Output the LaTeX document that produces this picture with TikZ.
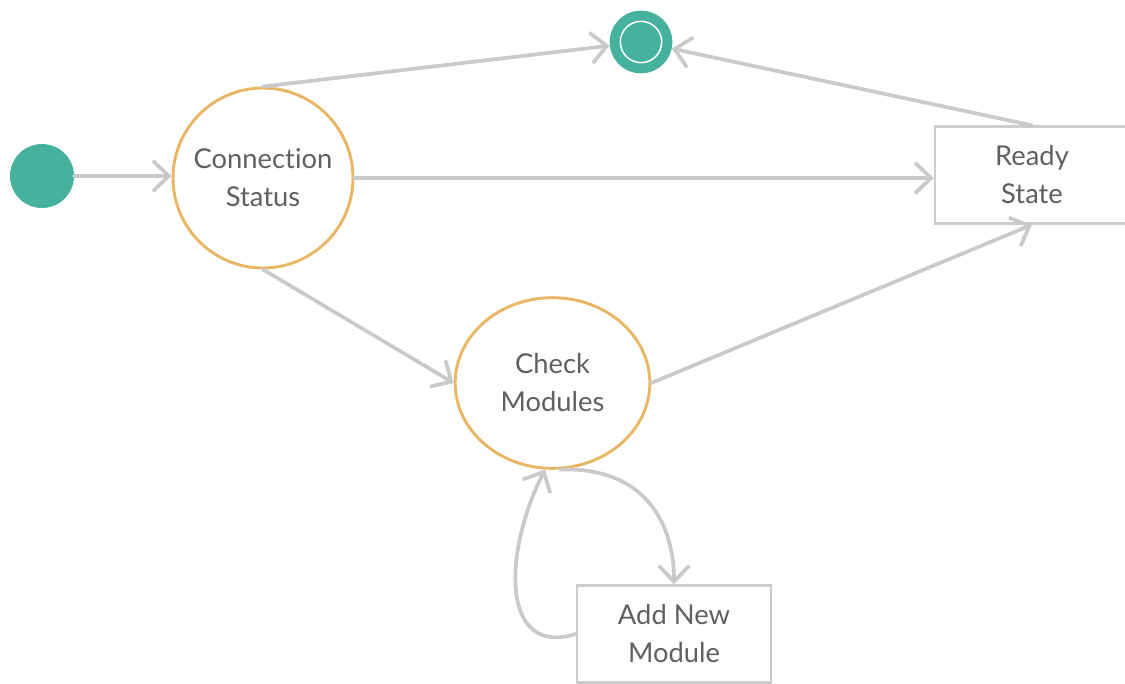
\documentclass[tikz,border=0pt]{standalone}
\usepackage{fontspec}
\setmainfont{Lato}[Ligatures=NoCommon]
\usetikzlibrary{arrows.meta,shapes.geometric}
\definecolor{teal}{HTML}{46B29D}
\definecolor{amber}{HTML}{E8B766}
\definecolor{edge}{HTML}{CACACA}
\definecolor{boxline}{HTML}{CDCDCD}
\definecolor{label}{HTML}{606060}
\tikzset{
  startnode/.style={circle,fill=teal,draw=none,minimum size=48pt,inner sep=0pt},
  endnode/.style={circle,fill=teal,draw=none,minimum size=47pt,inner sep=0pt},
  statecirc/.style={circle,draw=amber,line width=2.2pt,fill=white,minimum size=135pt,inner sep=0pt,
    align=center,text=label,font=\fontsize{20.5pt}{28.5pt}\selectfont},
  stateoval/.style={ellipse,draw=amber,line width=2.2pt,fill=white,minimum width=146pt,minimum height=128pt,inner sep=0pt,
    align=center,text=label,font=\fontsize{20.5pt}{28.5pt}\selectfont},
  statebox/.style={rectangle,draw=boxline,line width=1.8pt,fill=white,minimum width=145.5pt,minimum height=72.75pt,inner sep=0pt,
    align=center,text=label,font=\fontsize{20.5pt}{28.5pt}\selectfont},
  link/.style={draw=edge,line width=2.8pt,line cap=round,line join=round,
    -{Straight Barb[length=12pt,width=23pt,line width=2.8pt]}},
}
\begin{document}
\begin{tikzpicture}[x=0.75pt,y=-0.75pt]
  \useasboundingbox (0,0) rectangle (1125,683);
  \clip (0,0) rectangle (1125,683);

  % states
  \node[startnode] (init) at (42,176) {};
  \node[endnode] (fin) at (641,42) {};
  \draw[white,line width=1.1pt] (fin) circle (15.5pt);
  \node[statecirc] (cs) at (263,178) {Connection\\Status};
  \node[stateoval] (cm) at (552.5,383) {Check\\Modules};
  \node[statebox] (rs) at (1032,175) {Ready\\State};
  \node[statebox] (add) at (674,634) {Add New\\Module};

  % transitions
  \draw[link] (init.east) -- (init.east -| cs.west);
  \draw[link] (cs.north) -- (fin);
  \draw[link] (cs.east) -- (cs.east -| rs.west);
  \draw[link] (rs.north) -- (fin);
  \draw[link] (cs.south) -- (cm.west);
  \draw[link] (cm.east) -- (rs.south);
  \draw[link] (cm.275) .. controls +(83,-3) and +(0,-63) .. (add.north);
  \draw[link] (add.west) .. controls +(-74,23) and +(-43,86) .. (cm.265);
\end{tikzpicture}
\end{document}
